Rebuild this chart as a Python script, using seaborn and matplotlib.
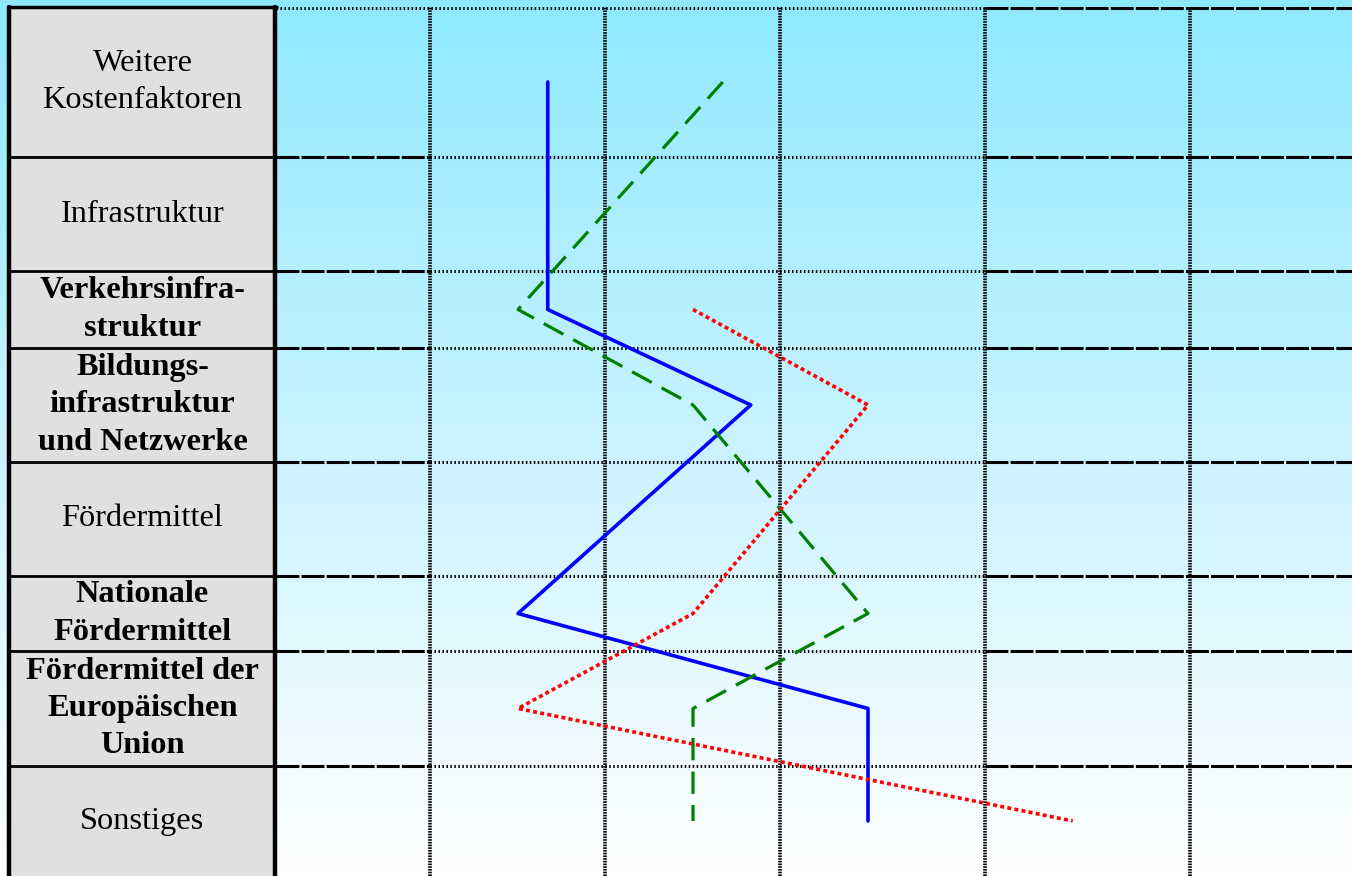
import numpy as np
import pandas as pd
import seaborn as sns
import matplotlib.pyplot as plt
from matplotlib.colors import LinearSegmentedColormap

sns.set_theme(style="white")
plt.rcParams['font.family'] = ['Liberation Serif', 'DejaVu Serif']

# rows of the table (top to bottom)
categories = [
    "Weitere\nKostenfaktoren",
    "Infrastruktur",
    "Verkehrsinfra-\nstruktur",
    "Bildungs-\ninfrastruktur\nund Netzwerke",
    "Fördermittel",
    "Nationale\nFördermittel",
    "Fördermittel der\nEuropäischen\nUnion",
    "Sonstiges",
]
bold_rows = [False, False, True, True, False, True, True, False]

# values (None = no point in that row)
blue_vals = [1.17, None, 1.17, 2.33, None, 1.0, 3.0, 3.0]
green_vals = [2.17, None, 1.0, 2.0, None, 3.0, 2.0, 2.0]
red_vals = [None, None, 2.0, 3.0, None, 2.0, 1.0, 4.17]

# layout (pixels) ------------------------------------------------------
W, H = 1352, 876
top_px = 7
row_h = np.array([150, 114, 77, 114, 114, 75, 115, 110])
edges = np.concatenate([[0], np.cumsum(row_h)])
centers = (edges[:-1] + edges[1:]) / 2
tbl_left, tbl_right = 9, 276
col_px = [430, 605, 780, 985, 1190]


def px2val(px):
    return 1 + (px - 518) / 175


fig = plt.figure(figsize=(W / 100, H / 100), dpi=100)

# background gradient
bg = fig.add_axes([0, 0, 1, 1])
cmap = LinearSegmentedColormap.from_list("sky", ["#8ee9ff", "#c9f3ff", "#ffffff"])
grad = np.linspace(0, 1, 256).reshape(-1, 1)
bg.imshow(grad, extent=[0, 1, 0, 1], aspect='auto', cmap=cmap, origin='upper')
bg.set_axis_off()

# left table
tbl = fig.add_axes([0, 0, 1, 1])
tbl.set_xlim(0, W)
tbl.set_ylim(H, 0)
tbl.set_axis_off()
tbl.patch.set_alpha(0)
tbl.add_patch(plt.Rectangle((tbl_left, top_px), tbl_right - tbl_left, H - top_px,
                            facecolor="#e0e0e0", edgecolor="none"))
for e in edges[1:-1]:
    tbl.plot([tbl_left, tbl_right], [top_px + e] * 2, color="black", lw=2, solid_capstyle='butt')
tbl.plot([tbl_left - 2, tbl_right + 2], [top_px, top_px], color="black", lw=2.5, solid_capstyle='butt')
tbl.plot([tbl_left, tbl_left], [top_px, H], color="black", lw=3.2)
tbl.plot([tbl_right - 1, tbl_right - 1], [top_px, H], color="black", lw=3.2)
for lab, c, b in zip(categories, centers, bold_rows):
    tbl.text((tbl_left + tbl_right) / 2, top_px + c, lab, ha='center', va='center',
             fontsize=23.3, fontweight='bold' if b else 'normal', linespacing=1.38,
             color="black")

# plot area
ax = fig.add_axes([tbl_right / W, 0, (W - tbl_right) / W, (H - top_px) / H])
ax.patch.set_alpha(0)

f1 = (col_px[0] - tbl_right) / (W - tbl_right)
f2 = (col_px[3] - tbl_right) / (W - tbl_right)
dash = dict(color="black", lw=2.2, ls=(0, (7.5, 0.7)))
dots = dict(color="black", lw=2.2, ls=(0, (0.5, 0.8)))
ax.axhline(1, 0, f2, **dots)
ax.axhline(1, f2, 1, **dash)
for e in edges[1:-1]:
    ax.axhline(e, 0, f1, **dash)
    ax.axhline(e, f1, f2, **dots)
    ax.axhline(e, f2, 1, **dash)
for c in col_px:
    ax.axvline(px2val(c), color="black", lw=2.6, ls=(0, (0.45, 0.3)))

styles = [
    ("blue", blue_vals, "#0000ff", "-", 2.6),
    ("green", green_vals, "#008000", (0, (7, 3.5)), 2.3),
    ("red", red_vals, "#ff0000", (0, (1.1, 0.9)), 2.6),
]
for name, vals, col, ls, lw in styles:
    df = pd.DataFrame({"y": centers, "value": vals}).dropna()
    sns.lineplot(data=df, x="value", y="y", sort=False, estimator=None,
                 color=col, linestyle=ls, lw=lw, ax=ax, legend=False)
ax.set_xlim(px2val(tbl_right), px2val(W))
ax.set_ylim(edges[-1], 0)
ax.set_axis_off()

fig.savefig("out.png", dpi=100)
